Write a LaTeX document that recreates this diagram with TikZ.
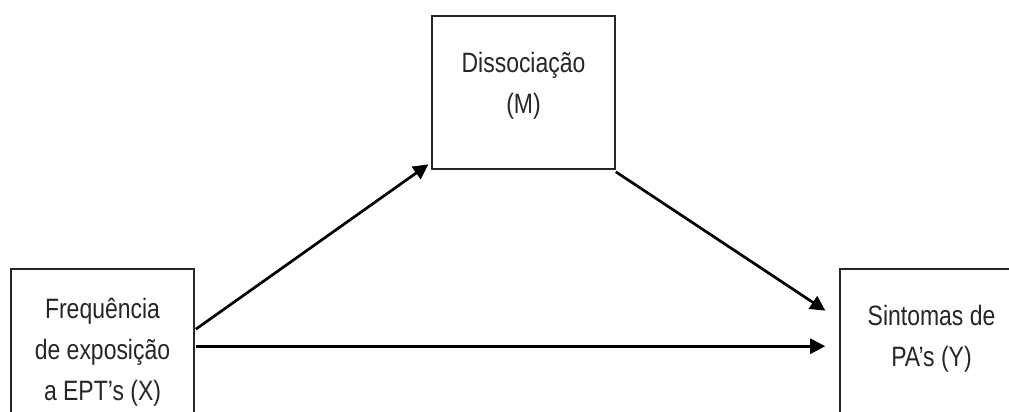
\documentclass[tikz,border=0pt]{standalone}
\usepackage{fontspec}
\setmainfont{Liberation Sans}[FakeStretch=0.82]
\usetikzlibrary{arrows.meta,calc}
\begin{document}
\begin{tikzpicture}[x=1pt,y=-1pt,
  box/.style={draw=black!85,line width=1.6pt,minimum width=183pt,inner sep=0pt},
  lbl/.style={align=center,font=\fontsize{28}{41}\selectfont,text=black!85,inner sep=0pt},
  arr/.style={line width=2.7pt,-{Triangle[length=15pt,width=15pt]},shorten >=1pt}]
\useasboundingbox (0,0) rectangle (1009,412);
\clip (0,0) rectangle (1009,412);
% the three variables
\node[box,minimum height=153pt] (M) at (523.5,92.5) {};
\node[box,minimum height=181pt] (X) at (102.5,359.5) {};
\node[box,minimum height=181pt] (Y) at (931.5,359.5) {};
\node[lbl] (Mt) at (523.5,86) {Dissociação\\(M)};
\node[lbl] (Xt) at (102.5,352.5) {Frequência\\de exposição\\a EPT’s (X)};
\node[lbl] (Yt) at (931.5,338.5) {Sintomas de\\PA’s (Y)};
% paths
\draw[arr] ($(X.north east)+(1,61)$) -- ($(M.south west)+(-2,-6)$);
\draw[arr] ($(M.south east)+(0,2)$) -- ($(Y.north west)+(-13,43)$);
\draw[arr] ($(X.north east)+(1,78)$) -- ($(Y.north west)+(-13,78)$);
\end{tikzpicture}
\end{document}
